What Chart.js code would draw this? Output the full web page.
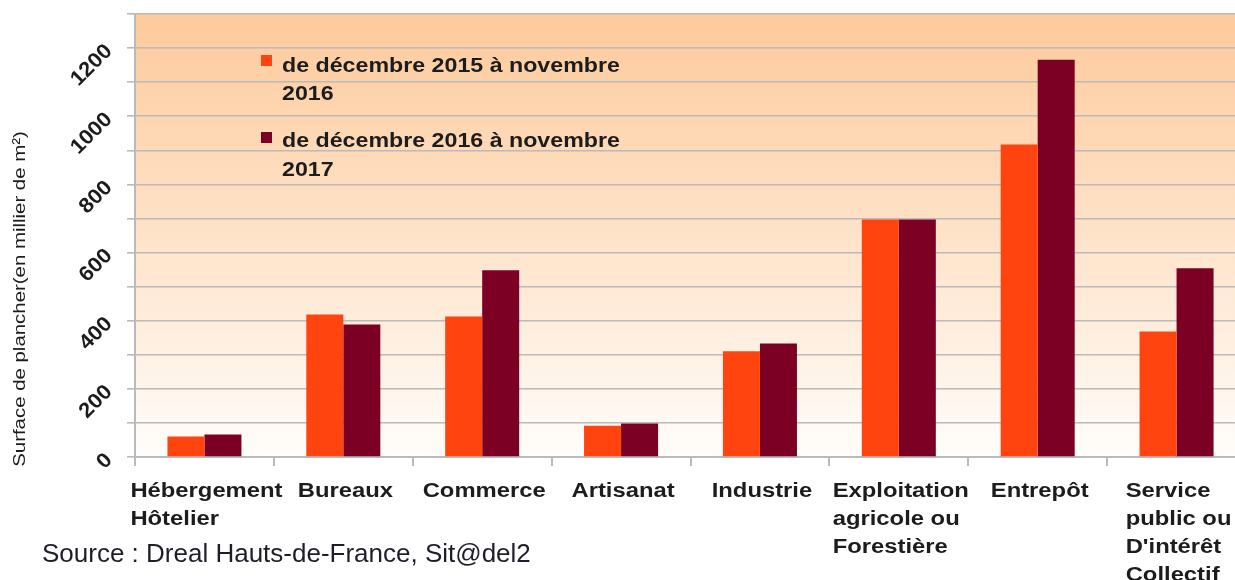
<!DOCTYPE html>
<html>
<head>
<meta charset="utf-8">
<script src="https://cdn.jsdelivr.net/npm/chart.js@4"></script>
<style>
  html, body { margin: 0; padding: 0; background: #ffffff; overflow: hidden; }
  #wrap { width: 1250px; height: 580px; }
  canvas { display: block; }
</style>
</head>
<body>
<div id="wrap"><canvas id="c" width="1250" height="580"></canvas></div>
<script>
// ---- data ----
const categories = [
  ['Hébergement', 'Hôtelier'],
  ['Bureaux'],
  ['Commerce'],
  ['Artisanat'],
  ['Industrie'],
  ['Exploitation', 'agricole ou', 'Forestière'],
  ['Entrepôt'],
  ['Service', 'public ou', "D'intérêt", 'Collectif']
];
const series2016 = [60, 418, 412, 92, 310, 697, 917, 368];
const series2017 = [66, 389, 548, 98, 333, 697, 1166, 554];
const seriesNames = [
  ['de décembre 2015 à novembre', '2016'],
  ['de décembre 2016 à novembre', '2017']
];
const yTickLabels = [0, 200, 400, 600, 800, 1000, 1200];
const yTitle = 'Surface de plancher(en millier de m²)';
const sourceText = 'Source : Dreal Hauts-de-France, Sit@del2';

const COL1 = '#ff4410';
const COL2 = '#7b0023';
const GRID = '#bababa';
const TXT = '#1c1c1c';

function drawText(ctx, text, x, y, o) {
  ctx.save();
  ctx.translate(x, y);
  if (o.rotation) ctx.rotate(o.rotation);
  ctx.scale(o.stretch || 1, 1);
  ctx.font = o.font;
  ctx.fillStyle = o.color || TXT;
  ctx.textAlign = o.align || 'left';
  ctx.textBaseline = o.baseline || 'alphabetic';
  ctx.fillText(text, 0, 0);
  ctx.restore();
}

const bgPlugin = {
  id: 'bg',
  beforeDraw(chart) {
    const { ctx, chartArea: a } = chart;
    const g = ctx.createLinearGradient(0, a.top, 0, a.bottom);
    g.addColorStop(0, '#fdca9b');
    g.addColorStop(0.5, '#fee3c9');
    g.addColorStop(1, '#fffdfb');
    ctx.save();
    ctx.fillStyle = g;
    ctx.fillRect(a.left, a.top, a.right - a.left, a.bottom - a.top);
    ctx.restore();
  }
};

const textPlugin = {
  id: 'texts',
  afterDraw(chart) {
    const ctx = chart.ctx;
    const xs = chart.scales.x, ys = chart.scales.y;
    // x labels: left-aligned block centered on category
    const xFont = 'bold 20px "Liberation Sans", Arial, sans-serif';
    const xStretch = 1.19;
    ctx.save();
    ctx.font = xFont;
    categories.forEach((lines, i) => {
      const cx = xs.getPixelForValue(i);
      const w = Math.max(...lines.map(l => ctx.measureText(l).width)) * xStretch;
      const left = cx - w / 2 + 2;
      lines.forEach((l, j) => {
        drawText(ctx, l, left, 497 + j * 28, { font: xFont, stretch: xStretch });
      });
    });
    ctx.restore();
    // y labels rotated
    const yFont = 'bold 21px "Liberation Sans", Arial, sans-serif';
    yTickLabels.forEach(v => {
      const py = ys.getPixelForValue(v);
      drawText(ctx, String(v), 109, py, { font: yFont, rotation: -Math.PI / 4, align: 'right', baseline: 'middle', stretch: 1.05 });
    });
    // y title
    drawText(ctx, yTitle, 20, 299, { font: '17px "Liberation Sans", Arial, sans-serif', rotation: -Math.PI / 2, align: 'center', baseline: 'middle', stretch: 1.2 });
    // legend
    const lFont = 'bold 20px "Liberation Sans", Arial, sans-serif';
    const lStretch = 1.16;
    const legY = [[55, 72, 100], [132, 147, 176]];
    [COL1, COL2].forEach((c, k) => {
      ctx.fillStyle = c;
      ctx.fillRect(261, legY[k][0], 11, 11);
      drawText(ctx, seriesNames[k][0], 282, legY[k][1], { font: lFont, stretch: lStretch });
      drawText(ctx, seriesNames[k][1], 282, legY[k][2], { font: lFont, stretch: lStretch });
    });
    // source
    drawText(ctx, sourceText, 42, 562, { font: '26px "Liberation Sans", Arial, sans-serif', color: '#1e1e2a' });
  }
};

new Chart(document.getElementById('c'), {
  type: 'bar',
  data: {
    labels: categories,
    datasets: [
      { label: seriesNames[0].join(' '), data: series2016, backgroundColor: COL1, borderWidth: 0 },
      { label: seriesNames[1].join(' '), data: series2017, backgroundColor: COL2, borderWidth: 0 }
    ]
  },
  options: {
    responsive: false,
    animation: false,
    devicePixelRatio: 1,
    layout: { padding: { top: 14, right: 4, left: 0, bottom: 0 } },
    datasets: { bar: { categoryPercentage: 0.533, barPercentage: 1.0 } },
    plugins: { legend: { display: false }, tooltip: { enabled: false }, title: { display: false } },
    scales: {
      x: {
        offset: true,
        ticks: { display: false },
        grid: { display: true, offset: true, drawOnChartArea: false, drawTicks: true, tickLength: 9, color: GRID, lineWidth: 2 },
        border: { display: true, color: GRID, width: 2 },
        afterFit(s) { s.height = 123; }
      },
      y: {
        min: 0, max: 1300,
        ticks: { display: false, stepSize: 100 },
        grid: { color: GRID, lineWidth: 1.6, drawTicks: true, tickLength: 8 },
        border: { display: true, color: GRID, width: 2 },
        afterFit(s) { s.width = 135; }
      }
    }
  },
  plugins: [bgPlugin, textPlugin]
});
</script>
</body>
</html>
